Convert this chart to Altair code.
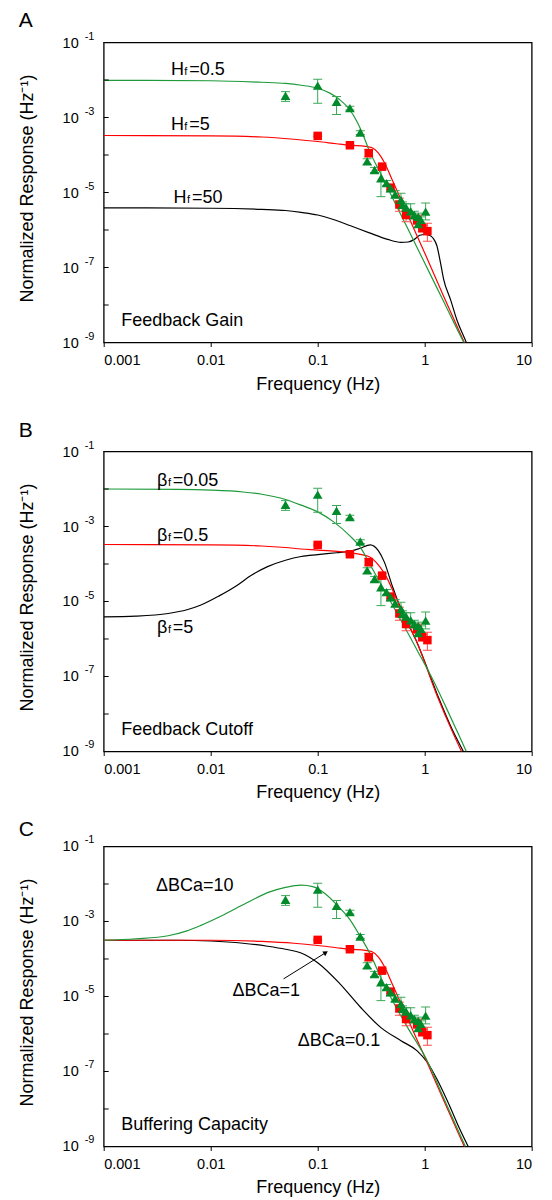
import altair as alt
import pandas as pd

FONT = "Liberation Sans"
W, H = 428, 300
GREEN = "#008a2a"
GREEN_LINE = "#1f9a3a"
GREEN_ERR = "#3aa855"
RED = "#ff0000"
RED_ERR = "#ff4a4a"

# ---------------- experimental data (same in every panel), log10 of response -------------
green_f = [0.05, 0.1, 0.15, 0.2, 0.25, 0.29, 0.34, 0.39, 0.44, 0.48, 0.53, 0.6, 0.62, 0.67,
           0.74, 0.8, 0.87, 0.92, 0.87, 1.02]
green_log = [-2.42, -2.15, -2.58, -2.75, -3.4, -4.17, -4.4, -4.62, -4.75, -4.89, -5.05, -5.2,
             -5.33, -5.4, -5.5, -5.6, -5.65, -5.73, -5.84, -5.51]
green_hi_log = [-2.31, -1.98, -2.44, -2.7, -3.35, -4.1, -4.33, -4.4, -4.68, -4.8, -4.95, -5.02,
                -5.25, -5.3, -5.3, -5.5, -5.55, -5.65, -5.75, -5.28]
green_lo_log = [-2.57, -2.62, -2.92, -2.8, -3.45, -4.25, -4.47, -5.11, -4.82, -4.98, -5.15, -5.37,
                -5.4, -5.5, -5.7, -5.7, -5.75, -5.82, -5.93, -5.73]

red_f = [0.1, 0.2, 0.3, 0.4, 0.48, 0.58, 0.67, 0.85, 0.95, 1.06]
red_log = [-3.49, -3.74, -3.95, -4.31, -4.87, -5.32, -5.6, -5.73, -5.95, -6.03]
red_hi_log = [-3.47, -3.72, -3.85, -4.26, -4.82, -5.15, -5.45, -5.6, -5.88, -5.82]
red_lo_log = [-3.51, -3.76, -4.05, -4.36, -4.92, -5.5, -5.78, -5.85, -6.05, -6.3]

# ---------------- model curves (log10 of response) ----------------
a_green_f = [0.001, 0.01, 0.03, 0.05, 0.07, 0.1, 0.13, 0.16, 0.2, 0.23, 0.26, 0.3, 0.4, 0.5, 0.7, 1.0, 1.5, 2.0, 2.35]
a_green_log = [-2.01, -2.02, -2.06, -2.09, -2.14, -2.22, -2.35, -2.52, -2.8, -3.08, -3.4, -3.85, -4.57, -5.14, -5.98, -6.88, -7.9, -8.63, -9.03]
a_red_f = [0.001, 0.01, 0.03, 0.06, 0.1, 0.15, 0.2, 0.28, 0.32, 0.37, 0.42, 0.5, 0.7, 1.0, 1.5, 2.0, 2.38]
a_red_log = [-3.48, -3.49, -3.52, -3.58, -3.64, -3.7, -3.74, -3.77, -3.8, -3.95, -4.2, -4.68, -5.62, -6.61, -7.76, -8.56, -9.04]
a_black_f = [0.001, 0.01, 0.03, 0.05, 0.07, 0.1, 0.14, 0.2, 0.3, 0.45, 0.6, 0.7, 0.8, 0.9, 1.0, 1.1, 1.2, 1.3, 1.4, 1.5, 1.75, 2.0, 2.45, 2.6]
a_black_log = [-5.41, -5.42, -5.45, -5.48, -5.53, -5.6, -5.72, -5.88, -6.07, -6.25, -6.33, -6.32, -6.25, -6.14, -6.12, -6.14, -6.22, -6.42, -6.85, -7.3, -7.87, -8.4, -9.0, -9.2]

b_green_f = [0.001, 0.005, 0.01, 0.02, 0.03, 0.05, 0.07, 0.1, 0.14, 0.2, 0.25, 0.3, 0.4, 0.6, 0.85, 1.2, 1.6, 2.0, 2.45]
b_green_log = [-2.0, -2.01, -2.03, -2.08, -2.14, -2.28, -2.43, -2.61, -2.87, -3.25, -3.55, -3.95, -4.6, -5.5, -6.3, -7.1, -7.85, -8.45, -9.0]
b_red_f = [0.001, 0.01, 0.03, 0.05, 0.07, 0.1, 0.2, 0.3, 0.35, 0.42, 0.6, 0.85, 1.3, 1.8, 2.25]
b_red_log = [-3.48, -3.49, -3.52, -3.56, -3.6, -3.63, -3.7, -3.8, -3.95, -4.25, -5.2, -6.1, -7.5, -8.45, -9.05]
b_black_f = [0.001, 0.002, 0.004, 0.006, 0.008, 0.012, 0.017, 0.024, 0.034, 0.05, 0.07, 0.1, 0.15, 0.2, 0.25, 0.31, 0.37, 0.42, 0.5, 0.6, 0.85, 1.3, 1.8, 2.3]
b_black_log = [-5.41, -5.39, -5.32, -5.22, -5.1, -4.85, -4.6, -4.3, -4.07, -3.9, -3.8, -3.75, -3.7, -3.66, -3.58, -3.49, -3.65, -3.95, -4.6, -5.2, -6.1, -7.45, -8.4, -9.0]

c_green_f = [0.001, 0.002, 0.004, 0.006, 0.008, 0.012, 0.017, 0.024, 0.034, 0.05, 0.07, 0.09, 0.12, 0.15, 0.2, 0.25, 0.31, 0.39, 0.52, 0.7, 1.05, 1.5, 2.0, 2.4]
c_green_log = [-3.5, -3.46, -3.38, -3.25, -3.11, -2.88, -2.66, -2.44, -2.23, -2.09, -2.03, -2.07, -2.28, -2.55, -2.95, -3.4, -3.87, -4.5, -5.2, -5.85, -6.7, -7.7, -8.5, -9.0]
c_red_f = [0.001, 0.01, 0.03, 0.06, 0.1, 0.15, 0.2, 0.28, 0.32, 0.37, 0.42, 0.5, 0.7, 1.0, 1.5, 2.0, 2.38]
c_red_log = [-3.5, -3.5, -3.53, -3.58, -3.64, -3.7, -3.74, -3.77, -3.8, -3.95, -4.2, -4.68, -5.62, -6.61, -7.76, -8.56, -9.04]
c_black_f = [0.001, 0.005, 0.01, 0.02, 0.034, 0.05, 0.07, 0.1, 0.16, 0.25, 0.39, 0.6, 0.85, 1.06, 1.3, 1.7, 2.1, 2.55]
c_black_log = [-3.5, -3.5, -3.52, -3.58, -3.66, -3.74, -3.84, -4.1, -4.65, -5.28, -5.83, -6.18, -6.45, -6.76, -7.2, -7.9, -8.5, -9.0]

# tick values / labels
x_ticks = [0.001, 0.01, 0.1, 1, 10]
y_tick_exp = [-1, -2, -3, -4, -5, -6, -7, -8, -9]
y_label_exp = [-1, -3, -5, -7, -9]

xs = alt.Scale(type="log", domain=[0.001, 10], nice=False)
ys = alt.Scale(type="log", domain=[1e-9, 1e-1], nice=False)
xaxis = alt.Axis(values=x_ticks, format="~g", domain=False, grid=False, ticks=True,
                 tickSize=4, tickColor="black", tickWidth=1, labelFont=FONT, labelFontSize=14.5,
                 labelColor="black", labelPadding=7, title="Frequency (Hz)", titleFont=FONT,
                 titleFontSize=18, titleFontWeight="normal", titleColor="black", titlePadding=8)


def X(field="f"):
    return alt.X(f"{field}:Q", scale=xs, axis=xaxis)


def Y(field="r"):
    return alt.Y(f"{field}:Q", scale=ys, axis=None)


def p10(v):
    return [10 ** e for e in v]


def curve(fs, logs, color):
    df = pd.DataFrame({"f": fs, "r": p10(logs)})
    return alt.Chart(df).mark_line(color=color, strokeWidth=1.2, clip=True,
                                   interpolate="monotone").encode(x=X(), y=Y())


def data_layers():
    g = pd.DataFrame({"f": green_f, "r": p10(green_log), "hi": p10(green_hi_log), "lo": p10(green_lo_log)})
    r = pd.DataFrame({"f": red_f, "r": p10(red_log), "hi": p10(red_hi_log), "lo": p10(red_lo_log)})
    layers = []
    for df, col in ((r, RED_ERR), (g, GREEN_ERR)):
        base = alt.Chart(df)
        layers.append(base.mark_rule(color=col, strokeWidth=1).encode(x=X(), y=Y("hi"), y2="lo:Q"))
        layers.append(base.mark_tick(orient="horizontal", color=col, size=9, thickness=1, opacity=1)
                      .encode(x=X(), y=Y("hi")))
        layers.append(base.mark_tick(orient="horizontal", color=col, size=9, thickness=1, opacity=1)
                      .encode(x=X(), y=Y("lo")))
    layers.append(alt.Chart(r).mark_square(size=72, color=RED, opacity=1).encode(x=X(), y=Y()))
    layers.append(alt.Chart(g).mark_point(shape="triangle-up", filled=True, size=95, color=GREEN,
                                          opacity=1).encode(x=X(), y=Y()))
    return layers


def axis_layers():
    tdf = pd.DataFrame({"r": p10(y_tick_exp)})
    ticks = alt.Chart(tdf).mark_rule(color="black", strokeWidth=1).encode(
        y=Y(), x=alt.value(0), x2=alt.value(5))
    ldf = pd.DataFrame({"r": p10(y_label_exp), "e": [str(e) for e in y_label_exp]})
    ten = alt.Chart(ldf).mark_text(text="10", font=FONT, fontSize=14.5, align="right",
                                   baseline="alphabetic", dy=5, color="black").encode(
        y=Y(), x=alt.value(-25))
    ex = alt.Chart(ldf).mark_text(font=FONT, fontSize=11, align="left", baseline="alphabetic",
                                  dy=-3, color="black").encode(y=Y(), x=alt.value(-19), text="e:N")
    title = alt.Chart(pd.DataFrame({"t": ["Normalized Response (Hz\u207b\u00b9)"]})).mark_text(
        font=FONT, fontSize=18, angle=270, align="center", baseline="middle", color="black").encode(
        x=alt.value(-75.7), y=alt.value(146), text="t:N")
    return [ticks, ten, ex, title]


def text_at(f, logr, txt, size=18, dx=0):
    df = pd.DataFrame({"f": [f], "r": [10 ** logr]})
    return alt.Chart(df).mark_text(text=txt, font=FONT, fontSize=size, align="left",
                                   baseline="alphabetic", dx=dx, color="black").encode(x=X(), y=Y())


def sub_label(f, logr, main, sub, rest, sub_dx, rest_dx):
    return [text_at(f, logr, main), text_at(f, logr, sub, size=11, dx=sub_dx),
            text_at(f, logr, rest, dx=rest_dx)]


def letter(txt, ybase):
    return alt.Chart(pd.DataFrame({"t": [txt]})).mark_text(
        font=FONT, fontSize=21, align="left", baseline="alphabetic", color="black").encode(
        x=alt.value(-85), y=alt.value(ybase), text="t:N")


# annotation anchors (frequency, log10 response)
a_lab_f = [0.00425, 0.00425, 0.0045]
a_lab_log = [-1.867, -3.333, -5.27]
a_lab_val = ["=0.5", "=5", "=50"]
b_lab_f = [0.00315, 0.00315, 0.00315]
b_lab_log = [-1.92, -3.387, -5.85]
b_lab_val = ["=0.05", "=0.5", "=5"]
c_lab_f = [0.00308, 0.016, 0.0652]
c_lab_log = [-2.2, -5.0, -6.32]
c_lab_txt = ["\u0394BCa=10", "\u0394BCa=1", "\u0394BCa=0.1"]
corner_f, corner_log = 0.00146, -8.56
arrow_f = [0.048, 0.119]
arrow_log = [-4.53, -3.83]

# ---- panel A
la = [curve(a_black_f, a_black_log, "black"), curve(a_red_f, a_red_log, RED),
      curve(a_green_f, a_green_log, GREEN_LINE)] + data_layers() + axis_layers()
for f, lg, v in zip(a_lab_f, a_lab_log, a_lab_val):
    la += sub_label(f, lg, "H", "f", v, 13.3, 18.3)
la += [text_at(corner_f, corner_log, "Feedback Gain"), letter("A", -15.8)]
pa = alt.layer(*la).properties(width=W, height=H)

# ---- panel B
lb = [curve(b_black_f, b_black_log, "black"), curve(b_red_f, b_red_log, RED),
      curve(b_green_f, b_green_log, GREEN_LINE)] + data_layers() + axis_layers()
for f, lg, v in zip(b_lab_f, b_lab_log, b_lab_val):
    lb += sub_label(f, lg, "\u03b2", "f", v, 11, 15.7)
lb += [text_at(corner_f, corner_log, "Feedback Cutoff"), letter("B", -14.8)]
pb = alt.layer(*lb).properties(width=W, height=H)

# ---- panel C
lc = [curve(c_black_f, c_black_log, "black"), curve(c_red_f, c_red_log, RED),
      curve(c_green_f, c_green_log, GREEN_LINE)] + data_layers() + axis_layers()
for f, lg, t in zip(c_lab_f, c_lab_log, c_lab_txt):
    lc.append(text_at(f, lg, t))
adf = pd.DataFrame({"f": [arrow_f[0]], "f2": [arrow_f[1]], "r": [10 ** arrow_log[0]], "r2": [10 ** arrow_log[1]]})
lc.append(alt.Chart(adf).mark_rule(color="black", strokeWidth=1).encode(x=X(), x2="f2:Q", y=Y(), y2="r2:Q"))
hdf = pd.DataFrame({"f": [arrow_f[1]], "r": [10 ** arrow_log[1]]})
lc.append(alt.Chart(hdf).mark_point(shape="triangle-right", filled=True, size=30, color="black",
                                    opacity=1, angle=328).encode(x=X(), y=Y()))
lc += [text_at(corner_f, corner_log, "Buffering Capacity"), letter("C", -10.7)]
pc = alt.layer(*lc).properties(width=W, height=H)

top = alt.vconcat(pa, pb, spacing=24)
chart = alt.vconcat(top, pc, spacing=14).properties(
    padding={"left": 9.7, "top": 0.5, "right": 5, "bottom": 0}, background="white"
).configure_view(stroke="black", strokeWidth=1.3)

chart.save("out.html", embed_options={"renderer": "svg", "actions": False})
